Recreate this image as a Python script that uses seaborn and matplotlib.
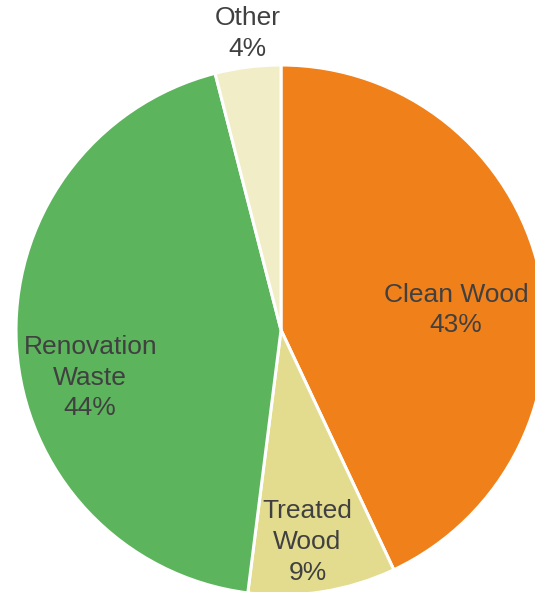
import matplotlib
matplotlib.use("Agg")
import matplotlib.pyplot as plt
import seaborn as sns

categories = ["Clean Wood", "Treated Wood", "Renovation Waste", "Other"]
label_text = ["Clean Wood", "Treated\nWood", "Renovation\nWaste", "Other"]
shares = [43, 9, 44, 4]
colors = ["#F0801A", "#E3DC8E", "#5CB45C", "#F1EDC6"]
# label centres, in units of the pie radius
label_xy = [(0.66, 0.075), (0.10, -0.80), (-0.72, -0.18), (-0.125, 1.12)]

sns.set_theme(style="white")
plt.rcParams["font.family"] = ["Liberation Sans", "DejaVu Sans"]

W, H = 535, 592
fig = plt.figure(figsize=(W / 100, H / 100), dpi=100)
ax = fig.add_axes([0, 0, 1, 1])

cx, cy, r = 281, 330, 265
ax.pie(shares, colors=colors, startangle=90, counterclock=False, radius=1,
       wedgeprops=dict(edgecolor="white", linewidth=2.2))

for txt, val, (x, y) in zip(label_text, shares, label_xy):
    ax.text(x, y, f"{txt}\n{val}%", ha="center", va="center",
            fontsize=19, color="#404040", linespacing=1.35)

ax.set_xlim(-cx / r, (W - cx) / r)
ax.set_ylim(-(H - cy) / r, cy / r)
ax.set_aspect("equal")
ax.axis("off")
fig.savefig("out.png", dpi=100, facecolor="white")
